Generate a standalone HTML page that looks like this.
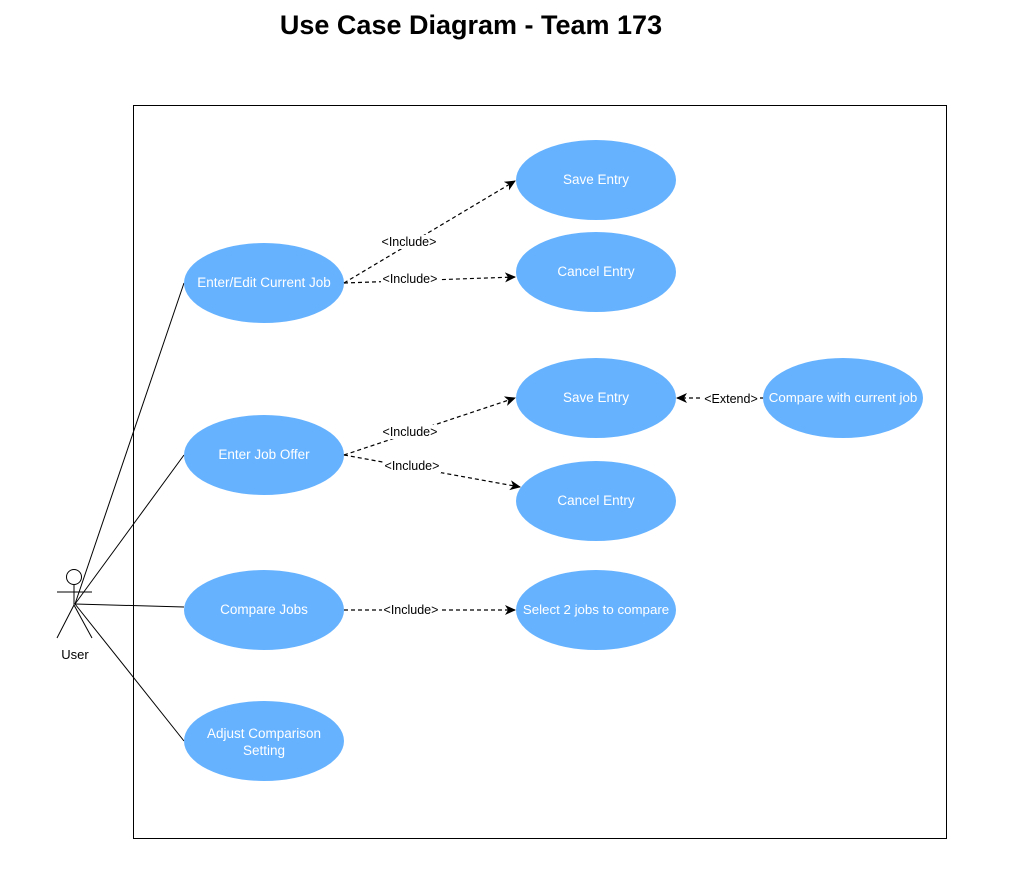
<!DOCTYPE html>
<html><head><meta charset="utf-8"><style>
html,body{margin:0;padding:0;background:#fff;}
svg{display:block;}
text{font-family:"Liberation Sans",Arial,sans-serif;}
</style></head><body>
<svg width="1031" height="887" viewBox="0 0 1031 887" xmlns="http://www.w3.org/2000/svg">
<defs>
<marker id="a" markerWidth="12" markerHeight="12" refX="10" refY="5" orient="auto" markerUnits="userSpaceOnUse">
<path d="M0,0 L11,5 L0,10 L3,5 Z" fill="#000"/>
</marker>
</defs>
<text x="471" y="34" font-size="27" font-weight="bold" text-anchor="middle">Use Case Diagram - Team 173</text>
<rect x="133.5" y="105.5" width="813" height="733" fill="none" stroke="#000" stroke-width="1"/>
<circle cx="74" cy="577" r="7.5" fill="#fff" stroke="#000"/>
<line x1="74" y1="585" x2="74" y2="605" stroke="#000"/>
<line x1="57" y1="592" x2="92" y2="592" stroke="#000"/>
<line x1="74" y1="605" x2="57" y2="638" stroke="#000"/>
<line x1="74" y1="605" x2="92" y2="638" stroke="#000"/>
<text x="75" y="659" font-size="13" text-anchor="middle">User</text>
<g stroke="#000" stroke-width="1">
<line x1="75" y1="604" x2="184" y2="283"/>
<line x1="75" y1="604" x2="184" y2="455"/>
<line x1="75" y1="604" x2="184" y2="607"/>
<line x1="75" y1="604" x2="184" y2="741"/>
</g>
<g fill="#66b2ff">
<ellipse cx="264" cy="283" rx="80" ry="40"/>
<ellipse cx="264" cy="455" rx="80" ry="40"/>
<ellipse cx="264" cy="610" rx="80" ry="40"/>
<ellipse cx="264" cy="741" rx="80" ry="40"/>
<ellipse cx="596" cy="180" rx="80" ry="40"/>
<ellipse cx="596" cy="272" rx="80" ry="40"/>
<ellipse cx="596" cy="398" rx="80" ry="40"/>
<ellipse cx="596" cy="501" rx="80" ry="40"/>
<ellipse cx="596" cy="610" rx="80" ry="40"/>
<ellipse cx="843" cy="398" rx="80" ry="40"/>
</g>
<g fill="#fff" font-size="13.5" text-anchor="middle">
<text x="264" y="287">Enter/Edit Current Job</text>
<text x="264" y="459">Enter Job Offer</text>
<text x="264" y="614">Compare Jobs</text>
<text x="264" y="738">Adjust Comparison</text>
<text x="264" y="755">Setting</text>
<text x="596" y="184">Save Entry</text>
<text x="596" y="276">Cancel Entry</text>
<text x="596" y="402">Save Entry</text>
<text x="596" y="505">Cancel Entry</text>
<text x="596" y="614" font-size="13.3">Select 2 jobs to compare</text>
<text x="843" y="402" font-size="13.3">Compare with current job</text>
</g>
<g stroke="#000" stroke-width="1.2" stroke-dasharray="4,3" fill="none" marker-end="url(#a)">
<line x1="344" y1="283" x2="515" y2="181"/>
<line x1="344" y1="283" x2="515" y2="277"/>
<line x1="344" y1="455" x2="515" y2="398"/>
<line x1="344" y1="455" x2="520" y2="487"/>
<line x1="344" y1="610" x2="515" y2="610"/>
<line x1="763" y1="398" x2="677" y2="398"/>
</g>
<g font-size="12.5" text-anchor="middle">
<rect x="380" y="235" width="58" height="14" fill="#fff"/>
<text x="409" y="246">&lt;Include&gt;</text>
<rect x="381" y="272" width="58" height="14" fill="#fff"/>
<text x="410" y="283">&lt;Include&gt;</text>
<rect x="381" y="425" width="58" height="14" fill="#fff"/>
<text x="410" y="436">&lt;Include&gt;</text>
<rect x="383" y="459" width="58" height="14" fill="#fff"/>
<text x="412" y="470">&lt;Include&gt;</text>
<rect x="382" y="603" width="58" height="14" fill="#fff"/>
<text x="411" y="614">&lt;Include&gt;</text>
<rect x="703" y="392" width="57" height="14" fill="#fff"/>
<text x="731" y="403">&lt;Extend&gt;</text>
</g>
</svg>
</body></html>
